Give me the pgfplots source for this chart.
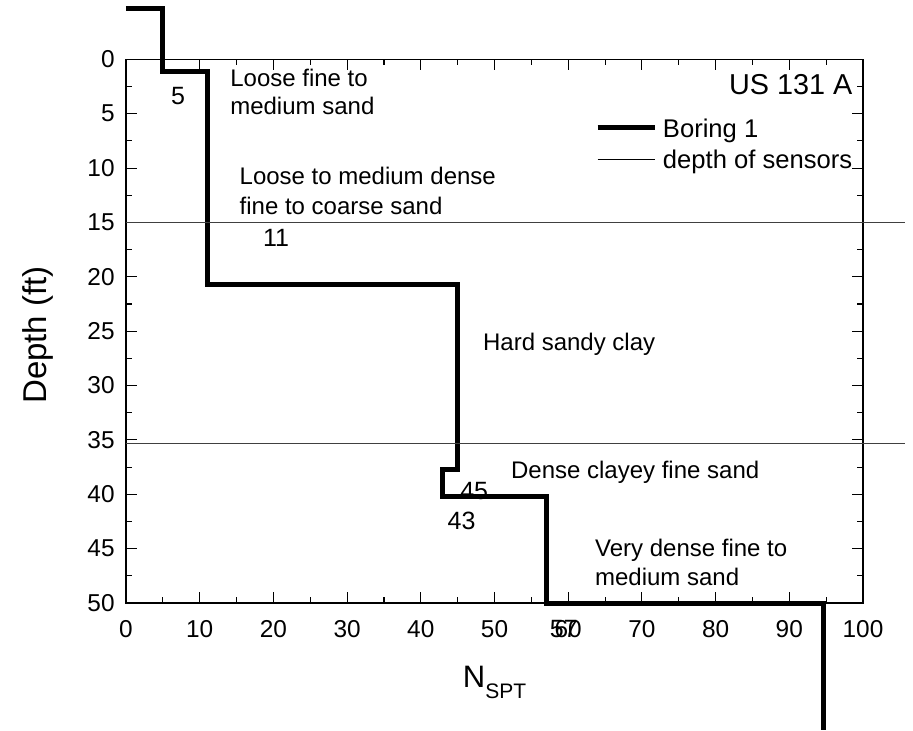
\documentclass[border=0pt]{standalone}
\usepackage{fontspec}
\setmainfont{Liberation Sans}
\usepackage{pgfplots}
\pgfplotsset{compat=1.18}

% SPT blow counts of boring 1: N value and the depth (ft) at which it changes
\pgfplotstableread{
N     depth
0     -4.7
5     -4.7
5     1.1
11    1.1
11    20.7
45    20.7
45    37.7
43    37.7
43    40.2
57    40.2
57    50
94.6  50
94.6  61.7
}\boring

\newcommand{\annot}{\fontsize{12}{14}\selectfont}
\newcommand{\nval}{\fontsize{12.5}{15}\selectfont}
\newcommand{\legf}{\fontsize{12.8}{15}\selectfont}

\begin{document}
\begin{tikzpicture}
\useasboundingbox (-63pt,-64pt) rectangle (393.5pt,301.5pt);
\begin{axis}[
  scale only axis,
  width=368.5pt, height=271.85pt,
  xmin=0, xmax=100, ymin=0, ymax=50,
  y dir=reverse,
  clip=false,
  xtick={0,10,...,100}, ytick={0,5,...,50},
  minor x tick num=1, minor y tick num=1,
  tick align=inside,
  major tick length=5.5pt, minor tick length=3pt,
  every tick/.style={black, line width=0.55pt},
  axis line style={black, line width=0.65pt},
  /pgf/number format/assume math mode=true,
  tick label style={font=\fontsize{12.2}{14}\selectfont},
  xticklabel style={anchor=base, yshift=-17pt},
  yticklabel style={anchor=east, inner sep=0pt, xshift=-5.5pt},
  xlabel={N\raisebox{-5.5pt}{\fontsize{10.5}{12}\selectfont SPT}},
  xlabel style={at={(axis description cs:0.5,0)}, anchor=base, yshift=-42pt, font=\fontsize{15.5}{18}\selectfont},
  ylabel={Depth (ft)},
  ylabel style={at={(axis description cs:-0.1194,0.493)}, anchor=center, font=\fontsize{16.5}{19}\selectfont},
]
% boring profile
\addplot[black, line width=2.5pt, line join=miter, mark=none] table[x=N, y=depth] {\boring};
% sensor depths
\addplot[black!75, line width=0.5pt, mark=none] coordinates {(0,15) (105.7,15)};
\addplot[black!75, line width=0.5pt, mark=none] coordinates {(0,35.3) (105.7,35.3)};

% legend
\draw[black, line width=2.5pt] (axis cs:64.0,6.23) -- (axis cs:71.8,6.23);
\draw[black, line width=0.5pt] (axis cs:64.0,9.17) -- (axis cs:71.8,9.17);
\node[anchor=base west, inner sep=0pt, font=\legf] at (axis cs:72.8,7.18) {Boring 1};
\node[anchor=base west, inner sep=0pt, font=\legf] at (axis cs:72.8,10.03) {depth of sensors};
\node[anchor=base east, inner sep=0pt, font=\fontsize{14.4}{17}\selectfont] at (axis cs:98.6,3.28) {US 131 A};

% soil layers
\node[anchor=base west, inner sep=0pt, font=\annot] at (axis cs:14.1,2.46) {Loose fine to};
\node[anchor=base west, inner sep=0pt, font=\annot] at (axis cs:14.1,5.12) {medium sand};
\node[anchor=base west, inner sep=0pt, font=\annot] at (axis cs:15.37,11.5) {Loose to medium dense};
\node[anchor=base west, inner sep=0pt, font=\annot] at (axis cs:15.37,14.23) {fine to coarse sand};
\node[anchor=base west, inner sep=0pt, font=\annot] at (axis cs:48.4,26.8) {Hard sandy clay};
\node[anchor=base west, inner sep=0pt, font=\annot] at (axis cs:52.2,38.55) {Dense clayey fine sand};
\node[anchor=base west, inner sep=0pt, font=\annot] at (axis cs:63.6,45.7) {Very dense fine to};
\node[anchor=base west, inner sep=0pt, font=\annot] at (axis cs:63.6,48.4) {medium sand};

% N values
\node[anchor=base, inner sep=0pt, font=\nval] at (axis cs:7.06,4.2) {5};
\node[anchor=base, inner sep=0pt, font=\nval] at (axis cs:20.35,17.24) {11};
\node[anchor=base west, inner sep=0pt, font=\nval] at (axis cs:45.3,40.5) {45};
\node[anchor=base west, inner sep=0pt, font=\nval] at (axis cs:43.6,43.2) {43};
\node[anchor=base, inner sep=0pt, font=\nval] at (axis cs:59.4,53.15) {57};
\end{axis}
\end{tikzpicture}
\end{document}
